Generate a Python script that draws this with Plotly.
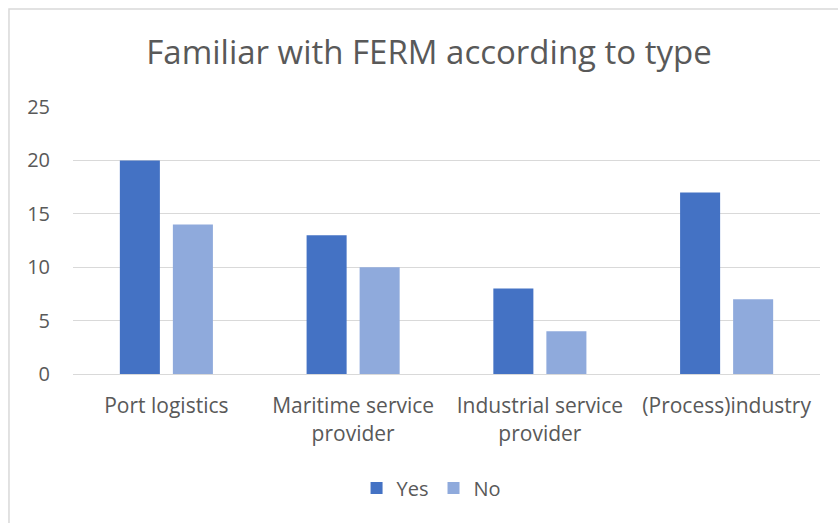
import plotly.graph_objects as go

categories = ["Port logistics", "Maritime service<br>provider", "Industrial service<br>provider", "(Process)industry"]
yes_values = [20, 13, 8, 17]
no_values = [14, 10, 4, 7]
y_ticks = [0, 5, 10, 15, 20, 25]

FONT = "Open Sans"
TXT = "#595959"

fig = go.Figure()
fig.add_trace(go.Bar(name="Yes", x=categories, y=yes_values, marker=dict(color="#4472C4", line=dict(width=0))))
fig.add_trace(go.Bar(name="No", x=categories, y=no_values, marker=dict(color="#8FAADC", line=dict(width=0))))

fig.update_layout(
    width=838, height=523,
    margin=dict(l=73, r=18, t=107, b=149),
    paper_bgcolor="white", plot_bgcolor="white",
    barmode="group", bargap=0.432, bargroupgap=0.245,
    font=dict(family=FONT, color=TXT, size=21),
    title=dict(text="Familiar with FERM according to type", x=0.512, xanchor="center",
               y=1 - 52 / 523, yanchor="middle", yref="container",
               font=dict(family=FONT, size=33, color=TXT)),
    legend=dict(orientation="h", x=0.48, xanchor="center", y=-0.427, yanchor="middle",
                font=dict(family=FONT, size=20, color=TXT), itemwidth=30, traceorder="normal"),
    showlegend=True,
)
fig.update_yaxes(range=[0, 25], tickvals=y_ticks, showgrid=True, gridcolor="#D9D9D9", gridwidth=1,
                 zeroline=False, showline=False, ticks="", ticklabelstandoff=22,
                 tickfont=dict(family=FONT, size=20, color=TXT))
fig.update_xaxes(showline=True, linecolor="#D9D9D9", linewidth=1, ticks="", ticklabelstandoff=13,
                 tickfont=dict(family=FONT, size=21, color=TXT))
fig.add_shape(type="rect", xref="paper", yref="paper", x0=-0.0857, x1=1.04, y0=-0.6, y1=1.367,
              line=dict(color="#D9D9D9", width=1.5), fillcolor="rgba(0,0,0,0)", layer="below")

fig.write_html("out.html")
